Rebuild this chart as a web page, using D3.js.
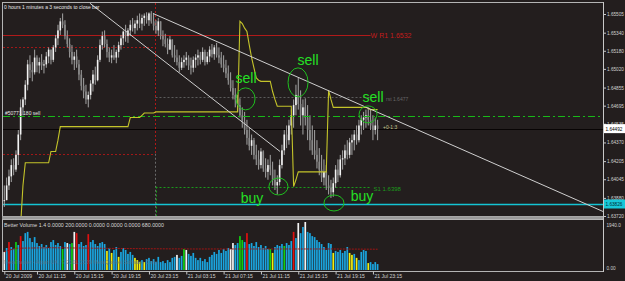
<!DOCTYPE html>
<html><head><meta charset="utf-8">
<script src="https://cdn.jsdelivr.net/npm/d3@7"></script>
<style>
html,body{margin:0;padding:0;background:#231e1e;}
svg{display:block;}
text{font-family:"Liberation Sans",Arial,sans-serif;}
</style></head><body>
<svg id="c" width="625" height="281"></svg>
<script>
// ---------- DATA (M15, 20-21 Jul 2009) ----------
const highs=[1.6399,1.6406,1.6413,1.6422,1.6423,1.6430,1.6448,1.6475,1.6477,1.6492,
1.6510,1.6514,1.6508,1.6519,1.6514,1.6512,1.6515,1.6510,1.6517,1.6521,
1.6519,1.6523,1.6532,1.6541,1.6547,1.6551,1.6545,1.6536,1.6529,1.6523,
1.6517,1.6519,1.6510,1.6501,1.6494,1.6488,1.6482,1.6492,1.6501,1.6504,
1.6514,1.6528,1.6535,1.6536,1.6528,1.6521,1.6519,1.6523,1.6519,1.6526,
1.6532,1.6536,1.6541,1.6538,1.6545,1.6547,1.6545,1.6549,1.6551,1.6550,
1.6551,1.6552,1.6552,1.6553,1.6551,1.6545,1.6547,1.6544,1.6536,1.6533,
1.6529,1.6531,1.6528,1.6523,1.6519,1.6514,1.6512,1.6514,1.6517,1.6514,
1.6512,1.6513,1.6515,1.6519,1.6517,1.6521,1.6519,1.6517,1.6522,1.6524,
1.6523,1.6525,1.6521,1.6517,1.6514,1.6510,1.6505,1.6499,1.6492,1.6485,
1.6479,1.6476,1.6468,1.6464,1.6457,1.6450,1.6444,1.6441,1.6435,1.6430,
1.6432,1.6430,1.6423,1.6422,1.6426,1.6420,1.6413,1.6408,1.6422,1.6435,
1.6448,1.6452,1.6457,1.6466,1.6475,1.6488,1.6494,1.6483,1.6475,1.6476,
1.6470,1.6461,1.6452,1.6448,1.6439,1.6432,1.6426,1.6422,1.6417,1.6408,
1.6404,1.6406,1.6417,1.6422,1.6426,1.6430,1.6435,1.6439,1.6441,1.6444,
1.6448,1.6452,1.6457,1.6461,1.6464,1.6466,1.6468,1.6466,1.6461,1.6459,
1.6457];
const lows=[1.6380,1.6386,1.6395,1.6402,1.6408,1.6411,1.6417,1.6439,1.6461,1.6470,
1.6483,1.6494,1.6491,1.6497,1.6499,1.6498,1.6501,1.6498,1.6503,1.6507,
1.6506,1.6508,1.6517,1.6523,1.6532,1.6538,1.6528,1.6521,1.6512,1.6506,
1.6501,1.6503,1.6492,1.6483,1.6476,1.6471,1.6468,1.6475,1.6482,1.6488,
1.6491,1.6508,1.6519,1.6521,1.6512,1.6508,1.6507,1.6510,1.6507,1.6512,
1.6519,1.6523,1.6526,1.6525,1.6531,1.6535,1.6533,1.6536,1.6538,1.6536,
1.6540,1.6542,1.6540,1.6542,1.6536,1.6533,1.6531,1.6528,1.6522,1.6521,
1.6515,1.6519,1.6512,1.6508,1.6505,1.6499,1.6501,1.6503,1.6505,1.6501,
1.6497,1.6499,1.6503,1.6505,1.6506,1.6508,1.6505,1.6506,1.6508,1.6512,
1.6510,1.6512,1.6507,1.6503,1.6499,1.6494,1.6488,1.6482,1.6475,1.6468,
1.6464,1.6459,1.6450,1.6444,1.6435,1.6430,1.6426,1.6422,1.6417,1.6413,
1.6414,1.6411,1.6406,1.6404,1.6408,1.6399,1.6395,1.6391,1.6399,1.6414,
1.6426,1.6432,1.6435,1.6444,1.6450,1.6461,1.6466,1.6452,1.6444,1.6452,
1.6439,1.6430,1.6426,1.6422,1.6414,1.6408,1.6402,1.6399,1.6395,1.6391,
1.6388,1.6389,1.6397,1.6402,1.6406,1.6413,1.6417,1.6422,1.6423,1.6426,
1.6430,1.6435,1.6437,1.6444,1.6448,1.6450,1.6452,1.6448,1.6439,1.6444,
1.6439];
const closes=[1.6386,1.6399,1.6407,1.6417,1.6413,1.6426,1.6444,1.6468,1.6475,1.6488,
1.6506,1.6501,1.6499,1.6512,1.6505,1.6508,1.6505,1.6506,1.6513,1.6519,
1.6510,1.6521,1.6529,1.6536,1.6544,1.6541,1.6531,1.6524,1.6517,1.6510,
1.6513,1.6506,1.6497,1.6487,1.6482,1.6475,1.6479,1.6489,1.6497,1.6492,
1.6510,1.6523,1.6531,1.6524,1.6517,1.6512,1.6514,1.6512,1.6517,1.6523,
1.6529,1.6535,1.6531,1.6536,1.6541,1.6538,1.6542,1.6545,1.6542,1.6547,
1.6549,1.6545,1.6551,1.6544,1.6540,1.6536,1.6544,1.6531,1.6528,1.6524,
1.6519,1.6528,1.6514,1.6512,1.6508,1.6503,1.6508,1.6510,1.6512,1.6505,
1.6503,1.6510,1.6512,1.6514,1.6510,1.6517,1.6508,1.6513,1.6519,1.6515,
1.6521,1.6514,1.6512,1.6506,1.6503,1.6498,1.6492,1.6485,1.6479,1.6475,
1.6470,1.6461,1.6455,1.6448,1.6441,1.6434,1.6439,1.6426,1.6422,1.6417,
1.6429,1.6414,1.6411,1.6417,1.6413,1.6404,1.6399,1.6402,1.6417,1.6430,
1.6444,1.6439,1.6452,1.6461,1.6470,1.6479,1.6471,1.6461,1.6468,1.6459,
1.6448,1.6439,1.6430,1.6426,1.6420,1.6413,1.6406,1.6411,1.6399,1.6397,
1.6393,1.6401,1.6413,1.6408,1.6422,1.6423,1.6430,1.6426,1.6437,1.6439,
1.6444,1.6439,1.6452,1.6457,1.6459,1.6461,1.6457,1.6452,1.6448,1.6452,
1.6449];
// yellow step indicator, one value per bar (null = not drawn)
const yellowLine=[null,null,null,null,null,null,null,1.6364,1.6399,1.6419,
1.6419,1.6419,1.6419,1.6419,1.6419,1.6419,1.6419,1.6419,1.6419,1.6419,
1.6429,1.6429,1.6429,1.6439,1.6451,1.6451,1.6451,1.6451,1.6451,1.6451,
1.6451,1.6451,1.6451,1.6451,1.6451,1.6451,1.6451,1.6451,1.6451,1.6451,
1.6451,1.6451,1.6451,1.6451,1.6451,1.6451,1.6451,1.6451,1.6451,1.6451,
1.6451,1.6451,1.6451,1.6451,1.6459,1.6459,1.6459,1.6459,1.6459,1.6461,
1.6463,1.6463,1.6463,1.6463,1.6463,1.6464,1.6464,1.6464,1.6464,1.6464,
1.6464,1.6464,1.6464,1.6464,1.6464,1.6464,1.6464,1.6464,1.6464,1.6464,
1.6464,1.6464,1.6464,1.6464,1.6464,1.6464,1.6464,1.6464,1.6464,1.6464,
1.6464,1.6464,1.6464,1.6464,1.6464,1.6464,1.6464,1.6464,1.6464,1.6464,
1.6464,1.6544,1.6542,1.6538,1.6535,1.6523,1.6512,1.6503,1.6494,1.6492,
1.6491,1.6491,1.6491,1.6491,1.6491,1.6482,1.6475,1.6469,1.6469,1.6469,
1.6469,1.6469,1.6469,1.6469,1.6398,1.6404,1.6411,1.6411,1.6411,1.6411,
1.6411,1.6411,1.6411,1.6411,1.6411,1.6411,1.6411,1.6411,1.6411,1.6483,
1.6475,1.6468,1.6468,1.6468,1.6468,1.6468,1.6468,1.6468,1.6468,1.6468,
1.6468,1.6468,1.6468,1.6468,1.6468,1.6468,1.6467,1.6466,1.6466,1.6466,
1.6466];
const volumes=[730,890,1130,930,850,1130,1010,1370,1170,1490,
1540,1290,1130,1330,1090,970,1050,930,1010,890,
1130,1210,1010,1090,970,850,1130,1090,1050,1090,
1540,1490,1050,1130,970,1010,1450,1130,1210,1050,
970,1090,1130,1050,770,890,690,810,930,530,
730,890,810,650,730,610,490,400,320,400,
320,440,490,360,440,320,530,320,360,280,
400,320,490,530,610,490,570,850,810,650,
570,690,490,400,490,360,440,320,530,610,
730,650,810,690,850,770,890,850,1090,1010,
1090,1370,1210,1130,1490,1050,1090,970,1130,930,
1010,890,970,850,850,690,930,1010,970,1050,
970,1090,1010,1170,1540,1290,1900,1490,1740,1940,
1540,1490,1370,1330,1210,1130,1050,930,810,1090,
1050,690,770,730,810,690,770,930,690,610,
650,490,400,730,810,770,280,320,240,320,
240];
// Better Volume classes: b normal, r climax up, w climax down, g churn, y low volume
const volClass=("wbrbbgbrbb"+"bbbbbbbbbb"+"bbbbbgbwbg"+"wrbbbbrbbb"+"bbbbybybby"+
"bbbbbbyyyb"+"ybbbbbbbbb"+"bbbbwbbgwb"+"bbbbbbbbbb"+"bbbbbbbwwb"+
"bggbrbbbbb"+"bbbbgybbbb"+"gbbbrbwbbw"+"bbbbbbbbbb"+"bybbbbbbyy"+"bybbbbybbb"+"b").split("");
const avgIdx=[0,5,20,40,60,80,100,120,140,160];
const avgVals=[740,880,900,880,860,850,850,850,850,840];
const priceTicks=[1.65505,1.65340,1.65180,1.65020,1.64855,1.64695,1.64535,1.64370,1.64205,1.64045,1.63880,1.63720];
const timeIdx=[0,14,30,46,62,78,94,110,126,142,158];
const timeLabels=["20 Jul 2009","20 Jul 11:15","20 Jul 15:15","20 Jul 19:15","20 Jul 23:15","21 Jul 03:15","21 Jul 07:15","21 Jul 11:15","21 Jul 15:15","21 Jul 19:15","21 Jul 23:15"];
const volTicks=[1940,0];
// levels
const weeklyR1=1.6532, prevDayHigh=1.6521, prevDayLow=1.6427, dayPivot=1.6477, dayS1=1.6398;
const orderPrice=1.6460, bidPrice=1.64492, alertPrice=1.63826;
const dayBreak=64.6;
// trend lines [bar index, price]
const trendA=[[36.7,1.6560],[118.2,1.6429]];
const trendB=[[63.7,1.6551],[256.6,1.6376]];
// signals
const signalText=["sell","sell","sell","buy","buy"];
const signalIdx=[103.4,125.9,155.9,117.5,141.3];
const signalPrice=[1.64755,1.64901,1.64618,1.63981,1.63835];

// ---------- DRAW ----------
const svg=d3.select("#c");
svg.append("rect").attr("width",625).attr("height",281).attr("fill","#231e1e");

const x=d3.scaleLinear().domain([0,160]).range([4.3,377.6]);
const y=d3.scaleLinear().domain([1.63720,1.65505]).range([216,14]);
const vy=d3.scaleLinear().domain([0,1940]).range([270,222]);
const L=3,R=603,T=3,B=216;

const defs=svg.append("defs");
defs.append("clipPath").attr("id","mc").append("rect").attr("x",L).attr("y",T).attr("width",R-L).attr("height",B-T);
defs.append("clipPath").attr("id","vc").append("rect").attr("x",L).attr("y",220).attr("width",R-L).attr("height",51);
const g=svg.append("g").attr("clip-path","url(#mc)");

function hline(p,x0,x1,col,dash,w){g.append("line").attr("x1",x0).attr("x2",x1).attr("y1",Math.round(y(p))+0.5).attr("y2",Math.round(y(p))+0.5)
 .attr("stroke",col).attr("stroke-width",w||1).attr("stroke-dasharray",dash||null);}
const xb=Math.round(x(dayBreak))+0.5;
hline(prevDayHigh,L,xb,"#a01818","2,2");
hline(prevDayLow,L,xb,"#a01818","2,2");
hline(weeklyR1,L,x(157),"#b01a1a");
g.append("line").attr("x1",xb).attr("x2",xb).attr("y1",T).attr("y2",y(prevDayLow)).attr("stroke","#b01818").attr("stroke-dasharray","2,2");
g.append("line").attr("x1",xb).attr("x2",xb).attr("y1",y(prevDayLow)).attr("y2",B).attr("stroke","#6a6a6a").attr("stroke-dasharray","2,2");
g.append("line").attr("x1",xb+1).attr("x2",xb+1).attr("y1",y(dayS1)).attr("y2",B).attr("stroke","#1a9a1a").attr("stroke-dasharray","2,2");
hline(dayPivot,xb,x(157),"#5c5c5c","2,2");
hline(dayS1,xb,x(157),"#1a9a1a","2,2");
hline(bidPrice,L,R,"#080404",null,1);
hline(alertPrice,L,R,"#14c4d4",null,1.3);

// candles
const bars=highs.map((h,i)=>{const o=i?closes[i-1]:closes[0];return {i,h,l:lows[i],c:closes[i],o:Math.max(lows[i],Math.min(h,o))};});
g.selectAll(".wick").data(bars).join("line").attr("x1",d=>x(d.i)).attr("x2",d=>x(d.i))
 .attr("y1",d=>y(d.h)).attr("y2",d=>y(d.l)).attr("stroke","#a4a4a4").attr("stroke-width",1);
g.selectAll(".body").data(bars).join("rect").attr("x",d=>x(d.i)-0.8).attr("width",1.6)
 .attr("y",d=>y(Math.max(d.o,d.c))).attr("height",d=>Math.max(1,Math.abs(y(d.o)-y(d.c))))
 .attr("fill",d=>d.c>=d.o?"#f2f2f2":"#8a8a8a");

hline(orderPrice,L,R,"#18b818","7,3,2,3",1.2);

// yellow indicator
g.append("path").datum(yellowLine).attr("fill","none").attr("stroke","#c4c42a").attr("stroke-width",1.1)
 .attr("d",d3.line().defined(d=>d!=null).x((d,i)=>x(i)).y(d=>y(d)));

// trend lines
[trendA,trendB].forEach(t=>g.append("line").attr("x1",x(t[0][0])).attr("y1",y(t[0][1])).attr("x2",x(t[1][0])).attr("y2",y(t[1][1]))
 .attr("stroke","#cfcfcf").attr("stroke-width",1));

// signals
const ell=[[9.5,11],[10,14.5],[9,8.5],[9.5,8.5],[10,8]];
const toff=[[0.5,-16],[10,-17.5],[5,-12.5],[-26.5,16.5],[28,-2]];
signalText.forEach((s,k)=>{
 const cx=x(signalIdx[k]),cy=y(signalPrice[k]);
 g.append("ellipse").attr("cx",cx).attr("cy",cy).attr("rx",ell[k][0]).attr("ry",ell[k][1]).attr("fill","none").attr("stroke","#1fbf1f").attr("stroke-width",1);
 g.append("text").attr("x",cx+toff[k][0]).attr("y",cy+toff[k][1]).attr("text-anchor","middle").attr("font-size",14).attr("fill","#25e025").text(s);
});

// level labels
g.append("text").attr("x",x(157)).attr("y",y(weeklyR1)+3.5).attr("font-size",7).attr("fill","#c41c1c").text("W R1  "+weeklyR1.toFixed(4));
g.append("text").attr("x",x(157)+3).attr("y",y(dayS1)+4.5).attr("font-size",6).attr("fill","#1c9c1c").text("S1  "+dayS1.toFixed(4));
g.append("text").attr("x",386).attr("y",y(dayPivot)+4).attr("font-size",5).attr("fill","#666").text("rst "+dayPivot.toFixed(4));
g.append("text").attr("x",5).attr("y",y(orderPrice)-1.5).attr("font-size",5).attr("fill","#e6e6e6").text("#50771 180 sell");
g.append("text").attr("x",383).attr("y",y(bidPrice)+0.5).attr("font-size",5).attr("fill","#c8c890").text("+0-1:3");
svg.append("text").attr("x",4).attr("y",9).attr("font-size",5).attr("fill","#e8e8e8").text("0 hours 1 minutes a 3 seconds to close bar");

// frames
svg.append("rect").attr("x",2.5).attr("y",2.5).attr("width",601).attr("height",214).attr("fill","none").attr("stroke","#b4b4b4");
svg.append("rect").attr("x",2).attr("y",216.5).attr("width",602).attr("height",3).attr("fill","#9a9a9a");
svg.append("rect").attr("x",2.5).attr("y",219.5).attr("width",601).attr("height",52).attr("fill","none").attr("stroke","#b4b4b4");

// price axis
const pa=svg.append("g").attr("transform","translate(603.5,0)").call(d3.axisRight(y).tickValues(priceTicks).tickSize(2.5).tickPadding(1).tickFormat(d3.format(".5f")));
pa.select(".domain").attr("stroke","#c8c8c8").attr("d","M0,2V272");
pa.selectAll(".tick line").attr("stroke","#c8c8c8");
pa.selectAll(".tick text").attr("fill","#d0d0d0").attr("font-size",4.7).attr("font-family","Liberation Sans");
// price boxes
[[bidPrice,"#ffffff","#000"],[alertPrice,"#18c8d8","#003038"]].forEach(b=>{
 svg.append("rect").attr("x",604).attr("y",y(b[0])-4.5).attr("width",21).attr("height",9).attr("fill",b[1]);
 svg.append("text").attr("x",605.5).attr("y",y(b[0])+2).attr("font-size",4.7).attr("fill",b[2]).text(b[0].toFixed(5));
});

// volume panel
const vg=svg.append("g").attr("clip-path","url(#vc)");
const vcol={b:"#1aa6e0",r:"#e01010",w:"#f4f4f4",g:"#10d010",y:"#f0f010"};
vg.selectAll(".v").data(volumes).join("rect").attr("x",(d,i)=>x(i)-0.85).attr("width",1.7)
 .attr("y",d=>vy(d)).attr("height",d=>vy(0)-vy(d)).attr("fill",(d,i)=>vcol[volClass[i]]);
vg.append("path").datum(avgIdx).attr("fill","none").attr("stroke","#a01414").attr("stroke-width",1).attr("stroke-dasharray","2,1")
 .attr("d",d3.line().x(d=>x(d)).y((d,k)=>vy(avgVals[k])));
svg.append("text").attr("x",4).attr("y",227).attr("font-size",5.3).attr("fill","#d8d8d8").text("Better Volume 1.4 0.0000 200.0000 0.0000 0.0000 0.0000 680.0000");
svg.append("text").attr("x",4).attr("y",264).attr("font-size",5.3).attr("fill","#5a7890").attr("opacity",0.8).text("MetaTrader - Alpari UK, \u00a9 2001-2009 MetaQuotes Software Corp.");
const va=svg.append("g").attr("transform","translate(603.5,0)").call(d3.axisRight(vy).tickValues(volTicks).tickSize(0).tickPadding(3).tickFormat(d=>d?d3.format(".1f")(d):"0.00"));
va.select(".domain").remove();
va.selectAll(".tick text").attr("fill","#d0d0d0").attr("font-size",4.7).attr("font-family","Liberation Sans");
va.selectAll(".tick").filter(d=>d===1940).select("text").attr("dy","0.9em");
va.selectAll(".tick").filter(d=>d===0).select("text").attr("dy","-0.1em");

// time axis
const ta=svg.append("g").attr("transform","translate(0,271.5)").call(d3.axisBottom(x).tickValues(timeIdx).tickSize(3).tickFormat((d,i)=>timeLabels[i]));
ta.select(".domain").remove();
ta.selectAll(".tick line").attr("stroke","#c8c8c8");
ta.selectAll(".tick text").attr("text-anchor","start").attr("x",1).attr("y",3).attr("dy","0.75em").attr("fill","#d0d0d0").attr("font-size",5.1).attr("font-family","Liberation Sans");
</script>
</body></html>
